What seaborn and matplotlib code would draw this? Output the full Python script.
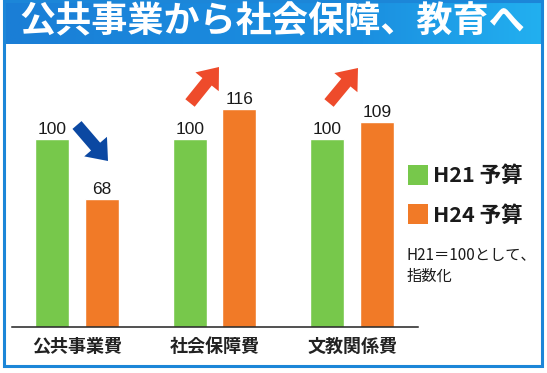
import numpy as np
import pandas as pd
import matplotlib
matplotlib.use("Agg")
import matplotlib.pyplot as plt
from matplotlib.patches import Rectangle, Polygon
import seaborn as sns

# ---- data ----
categories = ["公共事業費", "社会保障費", "文教関係費"]
series = ["H21 予算", "H24 予算"]
h21_values = [100, 100, 100]
h24_values = [68, 116, 109]
title = "公共事業から社会保障、教育へ"
note = "H21＝100として、\n指数化"

colors = {"H21 予算": "#77c84b", "H24 予算": "#f17a27"}

df = pd.DataFrame({
    "category": categories * 2,
    "series": [series[0]] * 3 + [series[1]] * 3,
    "value": h21_values + h24_values,
})

sns.set_theme(style="white")
plt.rcParams["font.family"] = ["Liberation Sans Narrow", "Noto Sans CJK JP", "DejaVu Sans"]

W, H = 547, 373
fig = plt.figure(figsize=(W / 100, H / 100), dpi=100)
fig.patch.set_facecolor("white")


def px(x, y):
    return (x / W, 1 - y / H)


# frame and header
border = "#1c86d8"
fig.patches.append(Rectangle(px(4, 366), 538 / W, 365 / H, transform=fig.transFigure,
                             fill=False, edgecolor=border, linewidth=2.2, zorder=0))
hax = fig.add_axes([3 / W, 1 - 44 / H, 540 / W, 43 / H])
grad = np.linspace(0, 1, 256)[None, :]
from matplotlib.colors import LinearSegmentedColormap
cmap = LinearSegmentedColormap.from_list("hdr", ["#1a7ed6", "#1a88dc", "#1b8fe0", "#22b0f0"])
hax.imshow(grad, aspect="auto", cmap=cmap, extent=[0, 1, 0, 1])
hax.set_axis_off()
fig.text(px(272, 22)[0], px(272, 22)[1], title, color="white", fontsize=26,
         fontweight="bold", ha="center", va="center",
         family=["Noto Sans CJK JP", "DejaVu Sans"])

# main axes
ax = fig.add_axes([12 / W, 1 - 327 / H, 406 / W, 267 / H])
sns.barplot(data=df, x="category", y="value", hue="series", hue_order=series,
            order=categories, palette=colors, width=0.72, gap=0.31,
            saturation=1, legend=False, ax=ax, zorder=2)
ax.set_xlim(-0.473, 2.48)
ax.set_ylim(0, 142)
ax.set_xlabel("")
ax.set_ylabel("")
ax.set_yticks([])
for s in ["top", "left", "right"]:
    ax.spines[s].set_visible(False)
ax.spines["bottom"].set_color("#222222")
ax.spines["bottom"].set_linewidth(1.1)
ax.tick_params(axis="x", length=0, pad=7)
for lbl in ax.get_xticklabels():
    lbl.set_fontsize(13)
    lbl.set_fontweight("bold")
    lbl.set_color("#222222")
    lbl.set_family(["Noto Sans CJK JP", "DejaVu Sans"])
ax.patch.set_alpha(0)

for cont in ax.containers:
    ax.bar_label(cont, fmt="%d", padding=1.5, fontsize=12.5, color="#1a1a1a",
                 family=["Liberation Sans Narrow", "Liberation Sans", "DejaVu Sans"])


# arrows
def block_arrow(tail, tip, shaft_w, head_w, head_l, color):
    t = np.array(tail, float)
    p = np.array(tip, float)
    d = p - t
    L = np.hypot(*d)
    u = d / L
    n = np.array([-u[1], u[0]])
    b = p - u * head_l
    pts = [t + n * shaft_w / 2, b + n * shaft_w / 2, b + n * head_w / 2, p,
           b - n * head_w / 2, b - n * shaft_w / 2, t - n * shaft_w / 2]
    pts = [px(x, y) for x, y in pts]
    fig.patches.append(Polygon(pts, closed=True, transform=fig.transFigure,
                               facecolor=color, edgecolor="none", zorder=5))


block_arrow((77, 125), (108, 161), 12, 30, 19, "#0b48a2")
block_arrow((190, 103), (219, 67), 12, 30, 19, "#ee4b2b")
block_arrow((329, 103), (358, 68), 12, 30, 19, "#ee4b2b")

# legend
for i, s in enumerate(series):
    y0 = 165 + i * 39.5
    fig.patches.append(Rectangle(px(408, y0 + 20), 20 / W, 20 / H, transform=fig.transFigure,
                                 facecolor=colors[s], edgecolor="none"))
    fig.text(*px(433, y0 + 10.5), s, fontsize=15.5, fontweight="bold", color="#1a1a1a",
             ha="left", va="center",
             family=["Liberation Sans Narrow", "Noto Sans CJK JP", "DejaVu Sans"])

fig.text(*px(407, 266), note, fontsize=11, color="#1a1a1a", ha="left", va="center",
         linespacing=1.25,
         family=["Liberation Sans Narrow", "Noto Sans CJK JP", "DejaVu Sans"])

fig.savefig("out.png", dpi=100)
